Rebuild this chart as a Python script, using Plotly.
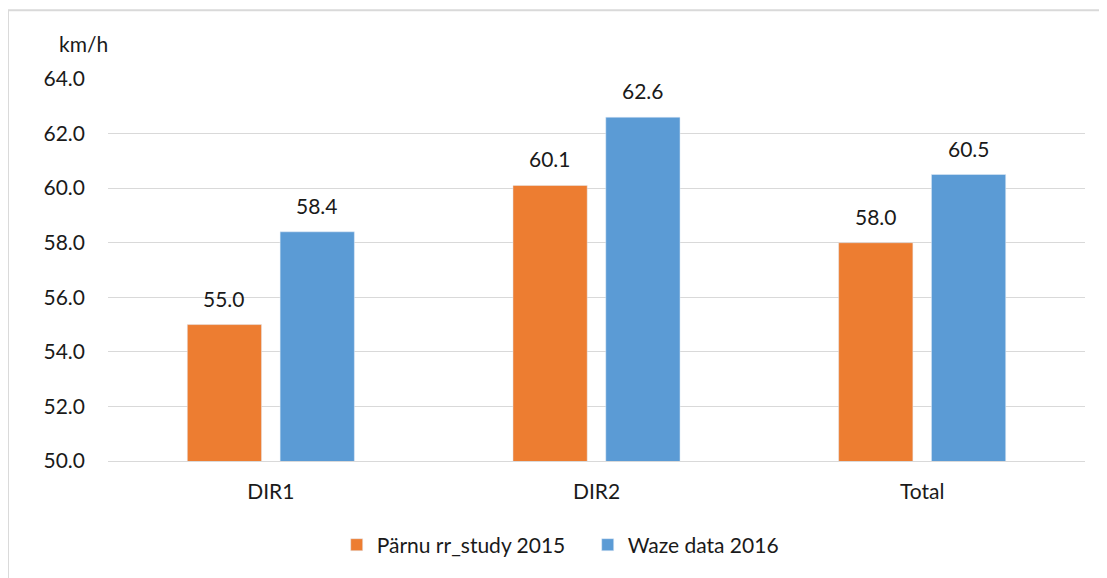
import plotly.graph_objects as go

categories = ["DIR1", "DIR2", "Total"]
parnu_2015 = [55.0, 60.1, 58.0]
waze_2016 = [58.4, 62.6, 60.5]
y_ticks = [50, 52, 54, 56, 58, 60, 62, 64]

font = "Lato, 'Open Sans', sans-serif"
txt = "#1a1a1a"

fig = go.Figure()
fig.add_trace(go.Bar(x=categories, y=parnu_2015, name="Pärnu rr_study 2015",
                     marker_color="#ED7D31"))
fig.add_trace(go.Bar(x=categories, y=waze_2016, name="Waze data 2016",
                     marker_color="#5B9BD5"))

# value labels above bars, offset to each bar of the group
for vals, dx in [(parnu_2015, -46.5), (waze_2016, 46.5)]:
    for c, v in zip(categories, vals):
        fig.add_annotation(x=c, y=v, text=f"{v:.1f}", showarrow=False,
                           xshift=dx, yshift=12, yanchor="bottom",
                           font=dict(size=21, color=txt))

# page body has an 8px margin, so figure sits at (8, 8)
fig.update_layout(
    width=1099, height=570,
    margin=dict(l=100, r=22, t=71, b=115),
    paper_bgcolor="white", plot_bgcolor="white",
    font=dict(family=font, size=21, color=txt),
    barmode="group", bargap=0.43, bargroupgap=0.2,
    showlegend=True,
    legend=dict(orientation="h", x=0.491, xanchor="center", y=-0.22, yanchor="middle",
                font=dict(size=21), itemwidth=30, entrywidth=206,
                traceorder="normal"),
)
fig.update_yaxes(range=[50, 64], tickvals=y_ticks, tickformat=".1f",
                 gridcolor="#d9d9d9", gridwidth=1, zeroline=False,
                 ticklabelstandoff=22)
fig.update_xaxes(showline=True, linecolor="#d9d9d9", linewidth=1,
                 ticklabelstandoff=12)

fig.add_annotation(text="km/h", xref="paper", yref="paper", x=-0.0246, y=1.094,
                   xanchor="center", yanchor="middle", showarrow=False,
                   font=dict(size=21, color=txt))
fig.add_shape(type="rect", xref="paper", yref="paper",
              x0=-0.1024, y0=-0.5, x1=1.2, y1=1.18,
              line=dict(color="#d9d9d9", width=2), layer="below")

fig.write_html("out.html")
